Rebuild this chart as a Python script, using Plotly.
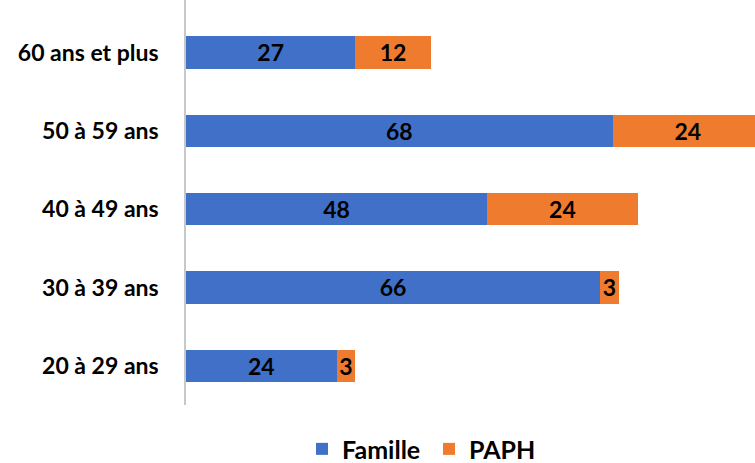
import plotly.graph_objects as go

# Données (du bas vers le haut)
categories = ['20 à 29 ans', '30 à 39 ans', '40 à 49 ans', '50 à 59 ans', '60 ans et plus']
famille = [24, 66, 48, 68, 27]
paph = [3, 3, 24, 24, 12]

font_family = 'Lato, Calibri, Open Sans, sans-serif'

fig = go.Figure()
fig.add_trace(go.Bar(
    y=categories, x=famille, name='Famille', orientation='h',
    marker=dict(color='#4070C8', line=dict(width=0)),
    text=famille, textposition='inside', insidetextanchor='middle',
    textangle=0,
    textfont=dict(family=font_family, size=23, color='black', weight='bold'),
    constraintext='none',
))
fig.add_trace(go.Bar(
    y=categories, x=paph, name='PAPH', orientation='h',
    marker=dict(color='#EE7B2E', line=dict(width=0)),
    text=paph, textposition='inside', insidetextanchor='middle',
    textangle=0,
    textfont=dict(family=font_family, size=23, color='black', weight='bold'),
    constraintext='none',
))

fig.update_layout(
    width=755, height=463,
    barmode='stack',
    bargap=0.59,
    plot_bgcolor='white',
    paper_bgcolor='white',
    margin=dict(l=186, r=0, t=0, b=58),
    font=dict(family=font_family, color='black'),
    legend=dict(
        orientation='h', xref='container', x=0.4, xanchor='left',
        yref='container', y=0.03, yanchor='middle',
        font=dict(size=25, weight='bold', family=font_family),
        entrywidth=82, entrywidthmode='pixels', traceorder='normal',
    ),
)

fig.update_xaxes(range=[0, 90.7], showgrid=False, showticklabels=False,
                 zeroline=False, showline=False)
fig.update_yaxes(range=[-0.5, 4.67], showgrid=False, showline=True,
                 linecolor='#C8C8C8', linewidth=1.5,
                 ticks='', ticklabelstandoff=21,
                 tickfont=dict(size=23, weight='bold', family=font_family))

# pas de marge autour de la page
fig.write_html("out.html", config={'displayModeBar': False},
               post_script="document.body.style.margin='0';")
